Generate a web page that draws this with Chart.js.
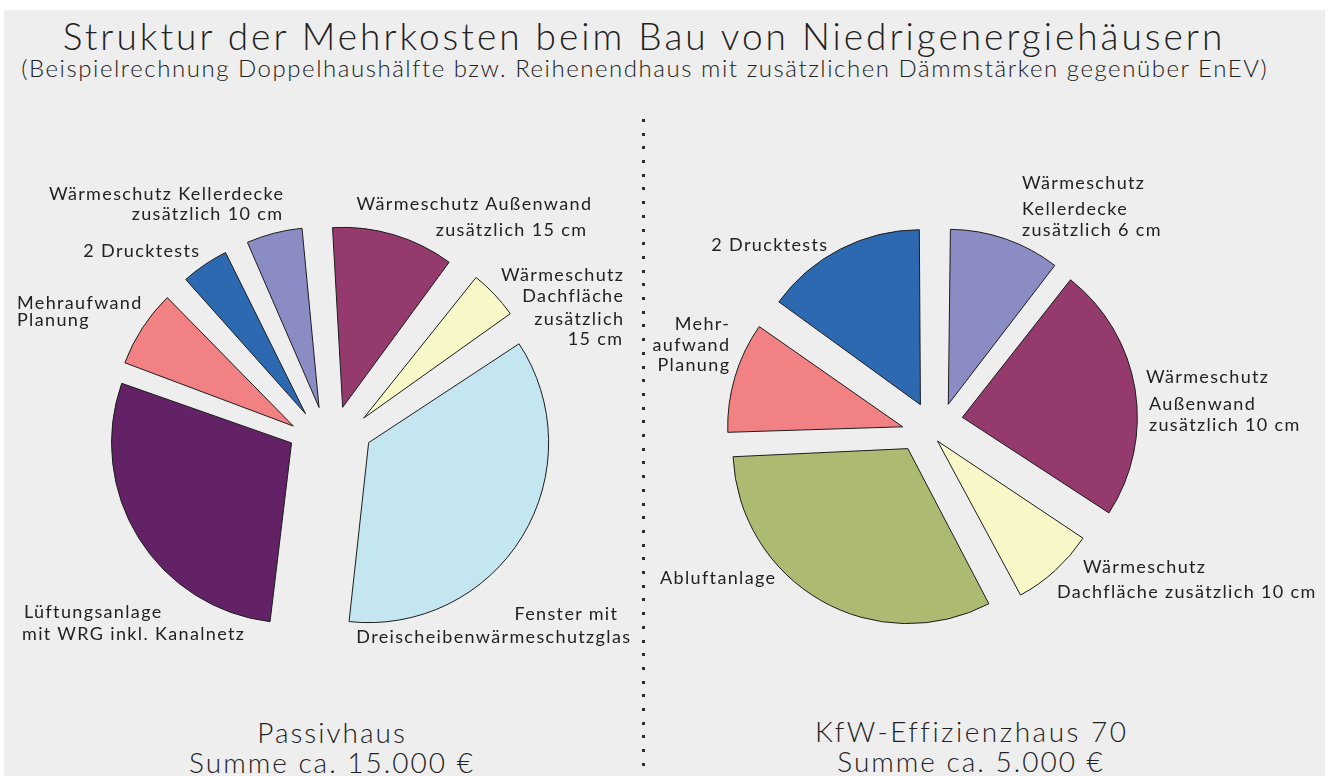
<!DOCTYPE html>
<html>
<head>
<meta charset="utf-8">
<script src="https://cdn.jsdelivr.net/npm/chart.js@4.4.1/dist/chart.umd.min.js"></script>
<style>
  html, body { margin: 0; padding: 0; background: #ffffff; }
  #stage { position: relative; width: 1328px; height: 776px; overflow: hidden; background: #ffffff; font-family: "Lato", "DejaVu Sans", sans-serif; color: #222222; }
  #bg { position: absolute; left: 4px; top: 10px; width: 1321px; height: 766px; background: #eeeeee; }
  .txt { position: absolute; white-space: nowrap; line-height: 1em; }
  canvas { position: absolute; }
  #sep { position: absolute; left: 642px; top: 119px; width: 3px; height: 657px;
         background: repeating-linear-gradient(to bottom, #2b2b2b 0px, #2b2b2b 3px, transparent 3px, transparent 13.7px); }
</style>
</head>
<body>
<div id="stage">
  <div id="bg"></div>
  <div id="sep"></div>
</div>
<script>
// ---------- DATA ----------
const passivCategories = [
  'Wärmeschutz Außenwand zusätzlich 15 cm',
  'Wärmeschutz Dachfläche zusätzlich 15 cm',
  'Fenster mit Dreischeibenwärmeschutzglas',
  'Lüftungsanlage mit WRG inkl. Kanalnetz',
  'Mehraufwand Planung',
  '2 Drucktests',
  'Wärmeschutz Kellerdecke zusätzlich 10 cm'
];
const passivValues = [11.4, 5.3, 36.3, 28.5, 7.6, 5.1, 5.8];   // share of ~15.000 € in %

const kfwCategories = [
  'Wärmeschutz Kellerdecke zusätzlich 6 cm',
  'Wärmeschutz Außenwand zusätzlich 10 cm',
  'Wärmeschutz Dachfläche zusätzlich 10 cm',
  'Abluftanlage',
  'Mehraufwand Planung',
  '2 Drucktests'
];
const kfwValues = [10.6, 23.6, 8.1, 32.0, 10.6, 15.1];           // share of ~5.000 € in %

const titleText = 'Struktur der Mehrkosten beim Bau von Niedrigenergiehäusern';
const subtitleText = '(Beispielrechnung Doppelhaushälfte bzw. Reihenendhaus mit zusätzlichen Dämmstärken gegenüber EnEV)';
const passivCaption = ['Passivhaus', 'Summe ca. 15.000 €'];
const kfwCaption = ['KfW-Effizienzhaus 70', 'Summe ca. 5.000 €'];

// ---------- STYLE / LAYOUT ----------
const C = {
  wand: '#953a6d', dach: '#f8f7c8', fenster: '#c3e6f0', lueft: '#632266',
  planung: '#f28183', druck: '#2d69b1', keller: '#8a8cc3', abluft: '#adba71'
};
const passivColors = [C.wand, C.dach, C.fenster, C.lueft, C.planung, C.druck, C.keller];
const kfwColors = [C.keller, C.wand, C.dach, C.abluft, C.planung, C.druck];

// exploded slices: displacement in px along the slice's middle angle
const passivExplode = [44.5, 46.4, 45.3, 45.3, 43.8, 43.7, 43.9];
const kfwExplode = [34.6, 40.9, 23, 28.4, 35.8, 36.3];
// the slices were pulled apart in two groups, each around its own pie centre
const passivLayerOf = [0, 0, 1, 1, 0, 0, 0];
const passivLayerCentre = [[330, 450], [330, 419]];
const kfwLayerOf = [0, 1, 1, 1, 0, 0];
const kfwLayerCentre = [[937, 437], [922, 424]];

// Chart.js v4 arcs move by offset/4 and also grow by (offset/4)*fix; keep every slice the same radius
const radiusFix = {
  id: 'radiusFix',
  afterDatasetUpdate(chart, args) {
    const meta = args.meta || chart.getDatasetMeta(args.index);
    const base = meta.controller.outerRadius;
    meta.data.forEach(arc => {
      const off = (arc.options.offset || 0) / 4;
      const fix = 1 - Math.sin(Math.min(Math.PI, arc.circumference));
      arc.outerRadius = base - off * fix;
    });
  }
};

const stage = document.getElementById('stage');
const CANVAS = 480;

function makePieLayer(cats, values, colors, explode, layerOf, layer, centre, rotation, radius) {
  const cv = document.createElement('canvas');
  cv.width = CANVAS; cv.height = CANVAS;
  cv.style.left = (centre[0] - CANVAS / 2) + 'px';
  cv.style.top = (centre[1] - CANVAS / 2) + 'px';
  stage.appendChild(cv);
  const mine = i => layerOf[i] === layer;
  return new Chart(cv, {
    type: 'pie',
    data: {
      labels: cats,
      datasets: [{
        data: values,
        backgroundColor: colors.map((c, i) => mine(i) ? c : 'rgba(0,0,0,0)'),
        borderColor: colors.map((c, i) => mine(i) ? '#1c1c1c' : 'rgba(0,0,0,0)'),
        borderWidth: colors.map((c, i) => mine(i) ? 1 : 0),
        borderJoinStyle: 'miter',
        offset: explode.map(v => v * 4),
        hoverOffset: 0,
        rotation: rotation,
        radius: radius
      }]
    },
    options: {
      responsive: false,
      maintainAspectRatio: false,
      animation: false,
      events: [],
      rotation: rotation,
      radius: radius,
      layout: { padding: 0 },
      plugins: { legend: { display: false }, tooltip: { enabled: false }, title: { display: false } }
    },
    plugins: [radiusFix]
  });
}

[0, 1].forEach(layer => {
  makePieLayer(passivCategories, passivValues, passivColors, passivExplode, passivLayerOf, layer, passivLayerCentre[layer], -4, 180);
  makePieLayer(kfwCategories, kfwValues, kfwColors, kfwExplode, kfwLayerOf, layer, kfwLayerCentre[layer], 0, 175);
});

// ---------- TEXT ----------
function addText(text, x, baseline, align, size, weight, ls) {
  const d = document.createElement('div');
  d.className = 'txt';
  d.textContent = text;
  d.style.fontSize = size + 'px';
  d.style.fontWeight = weight;
  d.style.letterSpacing = ls + 'px';
  d.style.top = (baseline - 0.887 * size) + 'px';
  if (align === 'r') { d.style.right = (1328 - x - ls) + 'px'; d.style.textAlign = 'right'; }
  else if (align === 'c') { d.style.left = (x + ls / 2) + 'px'; d.style.transform = 'translateX(-50%)'; }
  else { d.style.left = x + 'px'; }
  stage.appendChild(d);
  return d;
}

addText(titleText, 642.5, 50, 'c', 37, 300, 3.0);
addText(subtitleText, 644, 77, 'c', 24, 300, 1.55);
addText(passivCaption[0], 331, 742.5, 'c', 28, 300, 2.0);
addText(passivCaption[1], 331, 773, 'c', 28, 300, 2.0);
addText(kfwCaption[0], 970.5, 741.5, 'c', 28, 300, 2.5);
addText(kfwCaption[1], 970, 771.5, 'c', 28, 300, 2.0);

// slice label lines: text, anchor x, baseline y, alignment
const labelLines = [
  ['Wärmeschutz Kellerdecke', 283, 199.5, 'r'],
  ['zusätzlich 10 cm', 282, 219.5, 'r'],
  ['2 Drucktests', 199, 257, 'r'],
  ['Mehraufwand', 17, 309, 'l'],
  ['Planung', 17, 326, 'l'],
  ['Wärmeschutz Außenwand', 591, 210, 'r'],
  ['zusätzlich 15 cm', 586, 236, 'r'],
  ['Wärmeschutz', 623, 281, 'r'],
  ['Dachfläche', 623, 302, 'r'],
  ['zusätzlich', 623, 325, 'r'],
  ['15 cm', 622, 345, 'r'],
  ['Fenster mit', 617, 620, 'r'],
  ['Dreischeibenwärmeschutzglas', 630, 643, 'r'],
  ['Lüftungsanlage', 24, 618, 'l'],
  ['mit WRG inkl. Kanalnetz', 22, 640, 'l'],
  ['2 Drucktests', 827, 251, 'r'],
  ['Mehr-', 729, 330, 'r'],
  ['aufwand', 729, 351, 'r'],
  ['Planung', 729, 371, 'r'],
  ['Wärmeschutz', 1022, 189, 'l'],
  ['Kellerdecke', 1022, 215, 'l'],
  ['zusätzlich 6 cm', 1022, 236, 'l'],
  ['Wärmeschutz', 1146, 383, 'l'],
  ['Außenwand', 1149, 410, 'l'],
  ['zusätzlich 10 cm', 1149, 431, 'l'],
  ['Wärmeschutz', 1083, 573, 'l'],
  ['Dachfläche zusätzlich 10 cm', 1057, 598, 'l'],
  ['Abluftanlage', 660, 584, 'l']
];
labelLines.forEach(l => addText(l[0], l[1], l[2], l[3], 18, 400, 1.35));
</script>
</body>
</html>
